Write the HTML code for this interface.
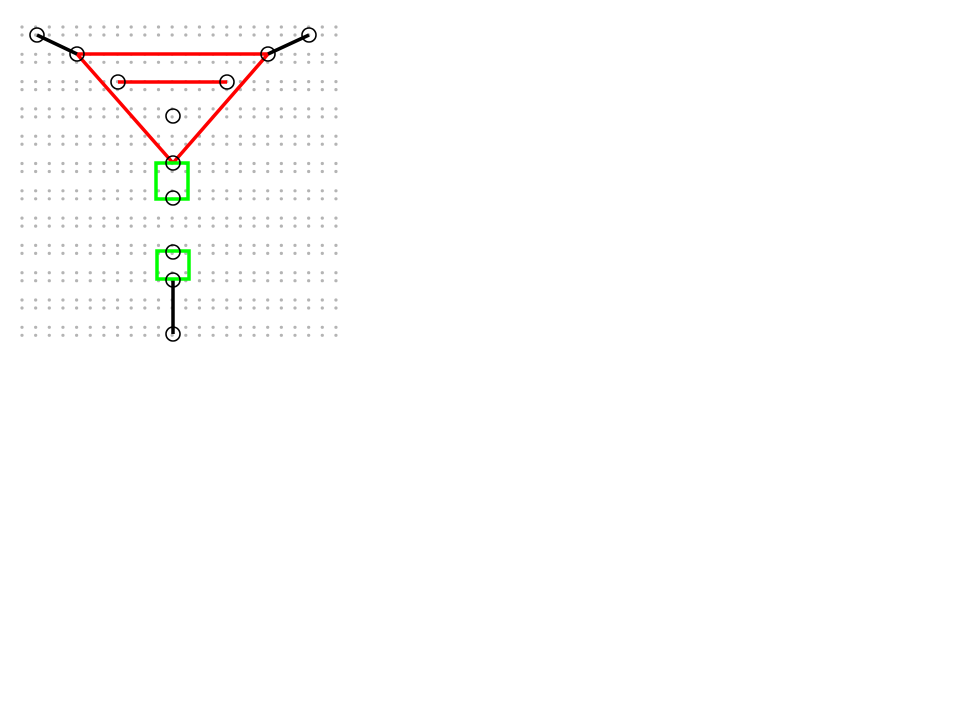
<!DOCTYPE html>
<html><head><meta charset="utf-8"><style>
html,body{margin:0;padding:0;background:#fff;width:960px;height:720px;overflow:hidden}
</style></head><body>
<svg id="chart" width="960" height="720" xmlns="http://www.w3.org/2000/svg"></svg>
<script>
const nodeX = [37, 77, 118, 227, 268, 309, 173, 173, 173, 173, 173, 173];
const nodeY = [35, 54, 82, 82, 54, 35, 116, 163, 198, 252, 280, 334];
const blackEdges = [[0,1],[4,5],[10,11]];
const redEdges = [[1,4],[4,7],[7,1],[2,3]];
const boxes = [[156,163,32,36],[157,251,32,28]];
const NS = 'http://www.w3.org/2000/svg';
const svg = document.getElementById('chart');
function mk(tag, attrs){const e=document.createElementNS(NS,tag);for(const k in attrs)e.setAttribute(k,attrs[k]);svg.appendChild(e);return e;}
// grid dots
for(let r=0;r<12;r++){
  const base = 27 + r*27.3;
  for(const dy of [0,8]){
    for(let c=0;c<24;c++){
      const d = mk('circle',{cx:22+c*13.65,cy:base+dy,r:1.6,fill:'#b4b4b4'});
      
      
    }
  }
}
for(const [a,b] of redEdges){
  const l = mk('line',{x1:nodeX[a],y1:nodeY[a],x2:nodeX[b],y2:nodeY[b],stroke:'#ff0000','stroke-width':3.5});
  
  
}
for(const [a,b] of blackEdges){
  const l = mk('line',{x1:nodeX[a],y1:nodeY[a],x2:nodeX[b],y2:nodeY[b],stroke:'#000','stroke-width':3.5});
  
  
}
for(const [x,y,w,h] of boxes){
  const r = mk('rect',{x:x,y:y,width:w,height:h,fill:'none',stroke:'#00ff00','stroke-width':3.5});
  
  
}
for(let i=0;i<nodeX.length;i++){
  const c = mk('circle',{cx:nodeX[i],cy:nodeY[i],r:7,fill:'none',stroke:'#000','stroke-width':1.6});
  
  
}
</script>
</body></html>
